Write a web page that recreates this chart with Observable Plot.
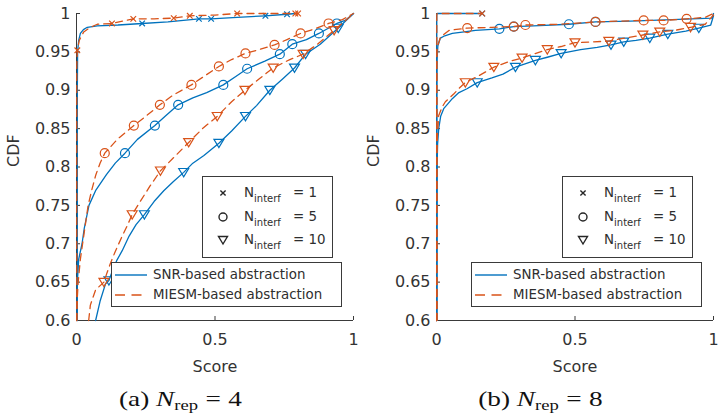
<!DOCTYPE html>
<html>
<head>
<meta charset="utf-8">
<script src="https://cdn.jsdelivr.net/npm/d3@7"></script>
<script src="https://cdn.jsdelivr.net/npm/@observablehq/plot@0.6"></script>
<style>
  html, body { margin: 0; padding: 0; background: #fff; }
  #figure { position: relative; width: 723px; height: 414px; background: #fff; overflow: hidden; }
  #figure > svg { position: absolute; top: 0; }
  .legend { position: absolute; background: #fff; border: 1px solid #3a3a3a; box-sizing: border-box;
            font-family: "DejaVu Sans", sans-serif; color: #2e2e2e; }
  .legend .item { position: absolute; left: 0; height: 18px; line-height: 18px; white-space: nowrap; }
  .legend svg { position: absolute; overflow: visible; }
  .legend .txt { position: absolute; font-size: 13.4px; }
  .legend .sub { font-size: 10px; position: relative; top: 5px; }
  .cap { position: absolute; top: 388px; width: 361px; text-align: center; white-space: nowrap;
         font-family: "Liberation Serif", "Times New Roman", serif; font-size: 22px; line-height: 22px;
         color: #111; transform: scaleX(1.24); }
  .cap i { font-style: italic; }
  .cap .sub { font-size: 15px; position: relative; top: 4px; }
  .cap .eq { margin: 0 6px; }
</style>
</head>
<body>
<div id="figure"></div>
<script>
// Axis ticks and labels
const xTicks = [0, 0.5, 1];
const yTicks = [0.6, 0.65, 0.7, 0.75, 0.8, 0.85, 0.9, 0.95, 1];
const interfCounts = [1, 5, 10];
const methodNames = ["SNR-based abstraction", "MIESM-based abstraction"];
const panelTags = ["(a)", "(b)"];
const repCounts = [4, 8];

// ---- N_rep = 4 : CDF curves [score, cdf] ----
const rep4Snr1 = [[0.003,0.6],[0.003,0.9],[0.004,0.95],[0.008,0.965],[0.014,0.974],[0.025,0.979],[0.039,0.982],[0.075,0.984],[0.15,0.985],[0.237,0.987],[0.33,0.989],[0.442,0.993],[0.486,0.993],[0.58,0.995],[0.682,0.997],[0.76,0.999],[0.79,1.0]];
const rep4Snr1Marks = [[0.237,0.987],[0.442,0.993],[0.486,0.993],[0.682,0.997],[0.76,0.999]];
const rep4Miesm1 = [[0.001,0.6],[0.001,0.93],[0.003,0.952],[0.01,0.965],[0.026,0.976],[0.05,0.982],[0.075,0.986],[0.128,0.987],[0.205,0.993],[0.28,0.993],[0.351,0.994],[0.409,0.997],[0.5,0.998],[0.58,1.0],[0.7,1.0],[0.8,1.0]];
const rep4Miesm1Marks = [[0.003,0.952],[0.128,0.987],[0.205,0.993],[0.351,0.994],[0.409,0.997],[0.58,1.0],[0.79,1.0],[0.8,1.0]];

const rep4Snr5 = [[0.002,0.6],[0.003,0.65],[0.008,0.68],[0.02,0.7],[0.028,0.72],[0.045,0.75],[0.07,0.77],[0.108,0.79],[0.14,0.805],[0.175,0.818],[0.22,0.836],[0.283,0.854],[0.32,0.866],[0.367,0.881],[0.42,0.89],[0.47,0.897],[0.53,0.907],[0.575,0.918],[0.616,0.928],[0.68,0.938],[0.734,0.947],[0.779,0.96],[0.83,0.966],[0.875,0.974],[0.94,0.987],[0.97,0.991],[1.0,1.0]];
const rep4Snr5Marks = [[0.175,0.818],[0.283,0.854],[0.367,0.881],[0.53,0.907],[0.616,0.928],[0.734,0.947],[0.779,0.96],[0.875,0.974],[0.94,0.987]];
const rep4Miesm5 = [[0.001,0.6],[0.003,0.63],[0.006,0.65],[0.014,0.68],[0.022,0.7],[0.03,0.72],[0.042,0.75],[0.055,0.77],[0.07,0.79],[0.085,0.805],[0.102,0.818],[0.15,0.837],[0.207,0.854],[0.25,0.866],[0.301,0.881],[0.35,0.894],[0.415,0.907],[0.46,0.918],[0.514,0.931],[0.56,0.94],[0.61,0.948],[0.66,0.953],[0.715,0.959],[0.76,0.966],[0.809,0.974],[0.86,0.98],[0.91,0.987],[0.96,0.992],[1.0,1.0]];
const rep4Miesm5Marks = [[0.102,0.818],[0.207,0.854],[0.301,0.881],[0.415,0.907],[0.514,0.931],[0.61,0.948],[0.715,0.959],[0.809,0.974],[0.91,0.987]];

const rep4Snr10 = [[0.069,0.6],[0.085,0.625],[0.105,0.648],[0.117,0.652],[0.13,0.665],[0.145,0.678],[0.165,0.691],[0.19,0.71],[0.215,0.725],[0.245,0.738],[0.28,0.755],[0.315,0.769],[0.35,0.781],[0.387,0.793],[0.42,0.805],[0.46,0.815],[0.514,0.831],[0.56,0.847],[0.61,0.866],[0.65,0.88],[0.698,0.9],[0.745,0.915],[0.787,0.929],[0.827,0.947],[0.88,0.96],[0.945,0.981],[1.0,1.0]];
const rep4Snr10Marks = [[0.117,0.652],[0.245,0.738],[0.387,0.793],[0.514,0.831],[0.61,0.866],[0.698,0.9],[0.787,0.929],[0.827,0.947],[0.945,0.981]];
const rep4Miesm10 = [[0.044,0.6],[0.05,0.62],[0.069,0.64],[0.099,0.65],[0.11,0.662],[0.123,0.675],[0.14,0.69],[0.165,0.71],[0.185,0.725],[0.201,0.738],[0.23,0.755],[0.265,0.775],[0.303,0.795],[0.35,0.812],[0.405,0.832],[0.455,0.85],[0.508,0.866],[0.56,0.885],[0.608,0.9],[0.66,0.915],[0.71,0.929],[0.77,0.94],[0.818,0.947],[0.87,0.96],[0.93,0.978],[1.0,1.0]];
const rep4Miesm10Marks = [[0.099,0.65],[0.201,0.738],[0.303,0.795],[0.405,0.832],[0.508,0.866],[0.608,0.9],[0.71,0.929],[0.818,0.947],[0.93,0.978]];

// ---- N_rep = 8 : CDF curves [score, cdf] ----
const rep8Snr1 = [[0.001,0.6],[0.001,0.999],[0.003,1.0],[0.165,1.0]];
const rep8Snr1Marks = [[0.165,1.0]];
const rep8Miesm1 = [[0.001,0.6],[0.001,0.999],[0.003,1.0],[0.165,1.0]];
const rep8Miesm1Marks = [[0.165,1.0]];

const rep8Snr5 = [[0.001,0.6],[0.001,0.9],[0.002,0.94],[0.005,0.958],[0.014,0.968],[0.03,0.971],[0.057,0.974],[0.1,0.976],[0.141,0.978],[0.227,0.98],[0.279,0.983],[0.35,0.984],[0.478,0.986],[0.574,0.989],[0.7,0.99],[0.85,0.992],[0.995,0.994],[1.0,1.0]];
const rep8Snr5Marks = [[0.227,0.98],[0.279,0.983],[0.478,0.986],[0.574,0.989]];
const rep8Miesm5 = [[0.001,0.6],[0.001,0.93],[0.002,0.955],[0.014,0.969],[0.045,0.978],[0.111,0.981],[0.2,0.982],[0.279,0.983],[0.321,0.985],[0.45,0.986],[0.574,0.989],[0.65,0.99],[0.748,0.991],[0.82,0.991],[0.903,0.993],[0.97,0.995],[1.0,1.0]];
const rep8Miesm5Marks = [[0.111,0.981],[0.279,0.983],[0.321,0.985],[0.574,0.989],[0.748,0.991],[0.82,0.991],[0.903,0.993]];

const rep8Snr10 = [[0.001,0.6],[0.002,0.8],[0.004,0.83],[0.008,0.85],[0.015,0.866],[0.026,0.876],[0.04,0.882],[0.057,0.889],[0.081,0.897],[0.11,0.902],[0.147,0.91],[0.2,0.916],[0.24,0.921],[0.285,0.93],[0.357,0.939],[0.4,0.943],[0.45,0.948],[0.52,0.953],[0.58,0.956],[0.63,0.959],[0.676,0.963],[0.72,0.965],[0.77,0.968],[0.835,0.973],[0.9,0.977],[0.947,0.981],[0.99,0.985],[1.0,0.997]];
const rep8Snr10Marks = [[0.147,0.91],[0.285,0.93],[0.357,0.939],[0.45,0.948],[0.63,0.959],[0.676,0.963],[0.77,0.968],[0.835,0.973],[0.947,0.981]];
const rep8Miesm10 = [[0.001,0.6],[0.001,0.8],[0.002,0.833],[0.008,0.867],[0.02,0.878],[0.032,0.885],[0.062,0.895],[0.08,0.902],[0.104,0.91],[0.153,0.919],[0.207,0.93],[0.267,0.938],[0.309,0.942],[0.35,0.947],[0.4,0.953],[0.45,0.957],[0.5,0.962],[0.56,0.963],[0.622,0.964],[0.68,0.968],[0.745,0.972],[0.806,0.976],[0.86,0.978],[0.917,0.982],[0.97,0.986],[1.0,0.998]];
const rep8Miesm10Marks = [[0.104,0.91],[0.207,0.93],[0.309,0.942],[0.4,0.953],[0.5,0.962],[0.622,0.964],[0.745,0.972],[0.806,0.976],[0.917,0.982]];

// ---- styling ----
const methodColors = ["#0072BD", "#D95319"];
const methodDash = [null, "7,5"];
const axisColor = "#3a3a3a";
const textColor = "#333333";

// Marker shapes (d3 symbol protocol: size = pi * r^2)
const timesSymbol = {draw(ctx, size) {
  const s = Math.sqrt(size / Math.PI);
  ctx.moveTo(-s, -s); ctx.lineTo(s, s); ctx.moveTo(-s, s); ctx.lineTo(s, -s);
}};
const triangleDownSymbol = {draw(ctx, size) {
  const s = Math.sqrt(size / Math.PI);
  ctx.moveTo(-0.9 * s, -0.7 * s); ctx.lineTo(0.9 * s, -0.7 * s); ctx.lineTo(0, 0.8 * s); ctx.closePath();
}};
const interfSymbols = [timesSymbol, "circle", triangleDownSymbol];
const interfRadius = [2.8, 4.5, 5.5];

const panels = [
  {curves: [[rep4Snr1, rep4Snr5, rep4Snr10], [rep4Miesm1, rep4Miesm5, rep4Miesm10]],
   marks:  [[rep4Snr1Marks, rep4Snr5Marks, rep4Snr10Marks], [rep4Miesm1Marks, rep4Miesm5Marks, rep4Miesm10Marks]]},
  {curves: [[rep8Snr1, rep8Snr5, rep8Snr10], [rep8Miesm1, rep8Miesm5, rep8Miesm10]],
   marks:  [[rep8Snr1Marks, rep8Snr5Marks, rep8Snr10Marks], [rep8Miesm1Marks, rep8Miesm5Marks, rep8Miesm10Marks]]}
];

// Layout of each panel
const layout = [
  {left: 0, width: 361, marginRight: 8},
  {left: 360, width: 362, marginRight: 9}
];
const H = 378, MT = 13, MB = 58, ML = 76;
const plotH = H - MT - MB;

const fig = document.getElementById("figure");

panels.forEach((p, pi) => {
  const L = layout[pi];
  const plotW = L.width - ML - L.marginRight;
  const marks = [
    // inward ticks
    Plot.ruleY(yTicks, {stroke: axisColor, strokeWidth: 1, insetRight: plotW - 4}),
    Plot.ruleX(xTicks, {stroke: axisColor, strokeWidth: 1, insetTop: plotH - 4}),
    // axis lines
    Plot.ruleX([0], {stroke: axisColor, strokeWidth: 1}),
    Plot.ruleY([0.6], {stroke: axisColor, strokeWidth: 1})
  ];
  for (let m = 0; m < 2; m++) {
    for (let k = 0; k < 3; k++) {
      marks.push(Plot.line(p.curves[m][k], {
        x: d => d[0], y: d => d[1], stroke: methodColors[m], strokeWidth: 1.3,
        strokeDasharray: methodDash[m] || undefined
      }));
      marks.push(Plot.dot(p.marks[m][k], {
        x: d => d[0], y: d => d[1], stroke: methodColors[m], fill: "none", strokeWidth: 1.2,
        symbol: interfSymbols[k], r: interfRadius[k]
      }));
    }
  }
  marks.push(Plot.text(["Score"], {text: d => d, frameAnchor: "bottom", dy: 51, fill: textColor}));
  marks.push(Plot.text(["CDF"], {text: d => d, frameAnchor: "left", dx: -63, rotate: -90, fill: textColor}));

  const svg = Plot.plot({
    width: L.width, height: H,
    marginLeft: ML, marginRight: L.marginRight, marginTop: MT, marginBottom: MB,
    style: {fontFamily: "'DejaVu Sans', sans-serif", fontSize: "16px", color: textColor, background: "transparent", overflow: "visible"},
    x: {domain: [0, 1], ticks: xTicks, tickFormat: d => String(d), tickSize: 0, tickPadding: 13, label: null},
    y: {domain: [0.6, 1], ticks: yTicks, tickFormat: d => String(d), tickSize: 0, tickPadding: 6, label: null},
    marks
  });
  svg.style.left = L.left + "px";
  fig.appendChild(svg);

  // Marker legend (N_interf)
  const leg1 = document.createElement("div");
  leg1.className = "legend";
  Object.assign(leg1.style, {left: (L.left + 202) + "px", top: "176px", width: "131px", height: "82px"});
  const rowY = [17, 40.5, 64];
  interfCounts.forEach((n, k) => {
    const item = document.createElement("div");
    item.className = "item";
    item.style.top = (rowY[k] - 9 - 1) + "px";
    item.style.width = "100%";
    const ns = "http://www.w3.org/2000/svg";
    const s = document.createElementNS(ns, "svg");
    s.setAttribute("width", "1"); s.setAttribute("height", "1");
    s.style.left = "20px"; s.style.top = "9px";
    const path = document.createElementNS(ns, "path");
    const sym = interfSymbols[k] === "circle" ? d3.symbolCircle : interfSymbols[k];
    const r = [2.6, 4, 5][k];
    path.setAttribute("d", d3.symbol(sym, Math.PI * r * r)());
    path.setAttribute("fill", "none");
    path.setAttribute("stroke", "#262626");
    path.setAttribute("stroke-width", "1.4");
    s.appendChild(path);
    item.appendChild(s);
    const t1 = document.createElement("span");
    t1.className = "txt"; t1.style.left = "41px";
    t1.innerHTML = `N<span class="sub">interf</span>`;
    item.appendChild(t1);
    const t2 = document.createElement("span");
    t2.className = "txt"; t2.style.left = "90px";
    t2.textContent = `= ${n}`;
    item.appendChild(t2);
    leg1.appendChild(item);
  });
  fig.appendChild(leg1);

  // Line legend (abstraction method)
  const leg2 = document.createElement("div");
  leg2.className = "legend";
  Object.assign(leg2.style, {left: (L.left + 111) + "px", top: "262px", width: "231px", height: "45px"});
  methodNames.forEach((name, m) => {
    const item = document.createElement("div");
    item.className = "item";
    item.style.top = [13, 33][m] - 9 - 1 + "px";
    item.style.width = "100%";
    const ns = "http://www.w3.org/2000/svg";
    const s = document.createElementNS(ns, "svg");
    s.setAttribute("width", "1"); s.setAttribute("height", "1");
    s.style.left = "3px"; s.style.top = "9px";
    const ln = document.createElementNS(ns, "line");
    ln.setAttribute("x1", 0); ln.setAttribute("x2", 32); ln.setAttribute("y1", 0); ln.setAttribute("y2", 0);
    ln.setAttribute("stroke", methodColors[m]);
    ln.setAttribute("stroke-width", "1.4");
    if (methodDash[m]) ln.setAttribute("stroke-dasharray", "10,6.5");
    s.appendChild(ln);
    item.appendChild(s);
    const t = document.createElement("span");
    t.className = "txt"; t.style.left = "41px";
    t.textContent = name;
    item.appendChild(t);
    leg2.appendChild(item);
  });
  fig.appendChild(leg2);

  // Sub-figure caption
  const cap = document.createElement("div");
  cap.className = "cap";
  cap.style.left = L.left + "px";
  cap.innerHTML = `${panelTags[pi]} <i>N</i><span class="sub">rep</span><span class="eq">=</span>${repCounts[pi]}`;
  fig.appendChild(cap);
});
</script>
</body>
</html>
